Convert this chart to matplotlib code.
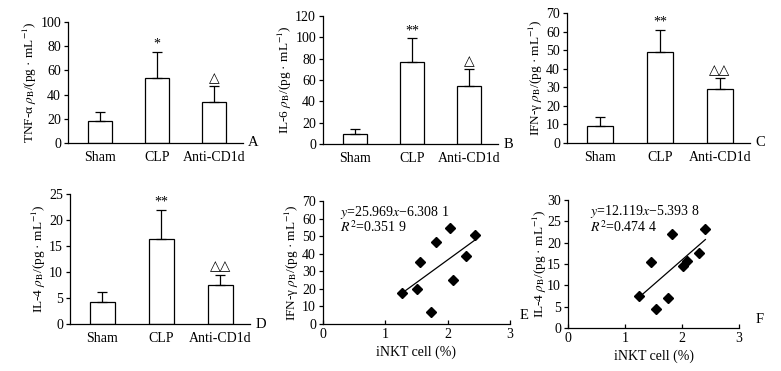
import numpy as np
import matplotlib
matplotlib.use('Agg')
import matplotlib.pyplot as plt

plt.rcParams['font.family'] = ['Liberation Serif', 'DejaVu Sans']
plt.rcParams['mathtext.fontset'] = 'stix'

# Bar panel data
groups = ['Sham', 'CLP', 'Anti-CD1d']
tnf_mean = [18, 54, 34]
tnf_err = [8, 21, 13]
il6_mean = [9, 77, 54]
il6_err = [5, 22, 16]
ifn_mean = [9, 49, 29]
ifn_err = [5, 12, 6]
il4_mean = [4.3, 16.3, 7.5]
il4_err = [1.9, 5.7, 2.0]
tnf_marks = ['', '*', '△']
il6_marks = ['', '**', '△']
ifn_marks = ['', '**', '△△']
il4_marks = ['', '**', '△△']

# Scatter panel data
inkt_e = [1.27, 1.50, 1.56, 1.73, 1.82, 2.03, 2.08, 2.29, 2.44]
ifn_pts = [17.5, 20, 35.5, 6.8, 46.5, 54.5, 25, 38.8, 50.7]
inkt_f = [1.24, 1.46, 1.54, 1.75, 1.83, 2.01, 2.08, 2.30, 2.41]
il4_pts = [7.4, 15.4, 4.5, 7.1, 22.1, 14.5, 15.7, 17.6, 23.3]

fig = plt.figure(figsize=(7.81, 3.71), dpi=100)
W, H = 781, 371


def add_ax(l, r, t, b):
    return fig.add_axes([l / W, 1 - b / H, (r - l) / W, (b - t) / H])


def style(ax):
    ax.spines['top'].set_visible(False)
    ax.spines['right'].set_visible(False)
    for s in ['left', 'bottom']:
        ax.spines[s].set_linewidth(0.9)
    ax.tick_params(axis='y', direction='out', length=3, width=0.9, labelsize=10, pad=2)


def bar_panel(ax, mean, err, marks, ymax, step, ylabel, letter):
    style(ax)
    x = np.arange(len(groups))
    ax.bar(x, mean, width=0.42, color='white', edgecolor='black', linewidth=0.9)
    ax.errorbar(x, np.array(mean), yerr=[np.zeros(3), err], fmt='none',
                ecolor='black', elinewidth=0.9, capsize=3.5, capthick=0.9)
    for xi, m, e, mk in zip(x, mean, err, marks):
        if mk:
            ax.text(xi, m + e + ymax * 0.01, mk, ha='center', va='bottom', fontsize=10)
    ax.set_xlim(-0.55, 2.5)
    ax.set_ylim(0, ymax)
    ax.set_yticks(np.arange(0, ymax + step / 2, step))
    ax.set_xticks(x)
    ax.set_xticklabels(groups)
    ax.tick_params(axis='x', length=0, labelsize=10, pad=6)
    ax.set_ylabel(ylabel, fontsize=9.5, labelpad=1)
    ax.text(1.03, 0, letter, transform=ax.transAxes, ha='left', va='center', fontsize=10.5)


def scatter_panel(ax, xs, ys, eq, r2, ymax, step, ylabel, letter, lx, tx, lpad):
    style(ax)
    ax.plot(xs, ys, 'D', color='black', markersize=5.5)
    slope, icpt = np.polyfit(xs, ys, 1)
    xx = np.array([min(xs), max(xs)])
    ax.plot(xx, slope * xx + icpt, color='black', linewidth=0.9)
    ax.set_xlim(0, 3)
    ax.set_ylim(0, ymax)
    ax.set_xticks([0, 1, 2, 3])
    ax.set_yticks(np.arange(0, ymax + step / 2, step))
    ax.tick_params(axis='x', direction='in', length=3, width=0.9, labelsize=10, pad=3)
    ax.set_xlabel('iNKT cell (%)', fontsize=10, labelpad=3)
    ax.set_ylabel(ylabel, fontsize=9.5, labelpad=lpad)
    ax.text(tx, 0.91, eq, transform=ax.transAxes, fontsize=10, va='center')
    ax.text(tx, 0.785, r2, transform=ax.transAxes, fontsize=10, va='center')
    ax.text(lx, 0.07, letter, transform=ax.transAxes, ha='left', va='center', fontsize=10.5)


unit = r'$\rho_{\rm B}$/(pg · mL$^{-1}$)'

axA = add_ax(68, 243, 22, 143)
bar_panel(axA, tnf_mean, tnf_err, tnf_marks, 100, 20, 'TNF-α ' + unit, 'A')
axB = add_ax(323, 498, 16, 144)
bar_panel(axB, il6_mean, il6_err, il6_marks, 120, 20, 'IL-6 ' + unit, 'B')
axC = add_ax(567, 750, 13, 143)
bar_panel(axC, ifn_mean, ifn_err, ifn_marks, 70, 10, 'IFN-γ ' + unit, 'C')
axD = add_ax(70, 250, 194, 324)
bar_panel(axD, il4_mean, il4_err, il4_marks, 25, 5, 'IL-4 ' + unit, 'D')

axE = add_ax(323, 510, 201, 324)
scatter_panel(axE, inkt_e, ifn_pts,
              r'$y$=25.969$x$−6.308 1', r'$R^2$=0.351 9', 70, 10,
              'IFN-γ ' + unit, 'E', 1.05, 0.09, 1)
axF = add_ax(568, 739, 200, 328)
scatter_panel(axF, inkt_f, il4_pts,
              r'$y$=12.119$x$−5.393 8', r'$R^2$=0.474 4', 30, 5,
              'IL-4 ' + unit, 'F', 1.1, 0.13, -1)

fig.savefig('out.png', dpi=100)
